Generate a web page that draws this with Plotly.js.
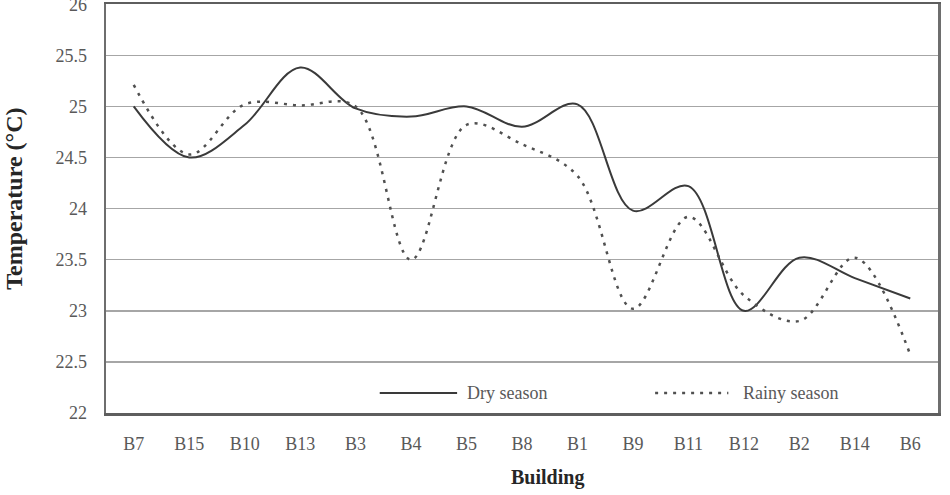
<!DOCTYPE html>
<html>
<head>
<meta charset="utf-8">
<script src="https://cdn.plot.ly/plotly-3.0.1.min.js"></script>
<style>
  html, body { margin: 0; padding: 0; background: #ffffff; }
  #chart { width: 950px; height: 495px; }
</style>
</head>
<body>
<div id="chart"></div>
<script>
// Mean indoor temperature per building, dry vs rainy season
const buildings = ['B7', 'B15', 'B10', 'B13', 'B3', 'B4', 'B5', 'B8', 'B1', 'B9', 'B11', 'B12', 'B2', 'B14', 'B6'];
const drySeason = [25.0, 24.5, 24.82, 25.38, 24.98, 24.9, 25.0, 24.8, 25.02, 23.98, 24.22, 23.0, 23.52, 23.32, 23.12];
const rainySeason = [25.21, 24.53, 25.02, 25.01, 25.0, 23.5, 24.82, 24.63, 24.32, 23.02, 23.92, 23.15, 22.9, 23.52, 22.57];
const seriesNames = ['Dry season', 'Rainy season'];
const yTicks = [22, 22.5, 23, 23.5, 24, 24.5, 25, 25.5, 26];

const serif = 'Liberation Serif, Times New Roman, serif';
const textGrey = '#595959';

const traces = [
  {
    x: buildings, y: drySeason, name: seriesNames[0], type: 'scatter', mode: 'lines',
    line: { color: '#3a3a3a', width: 2, shape: 'spline', smoothing: 1 },
    showlegend: false, hoverinfo: 'x+y'
  },
  {
    x: buildings, y: rainySeason, name: seriesNames[1], type: 'scatter', mode: 'lines',
    line: { color: '#505050', width: 2.5, dash: '3px,6px', shape: 'spline', smoothing: 1 },
    showlegend: false, hoverinfo: 'x+y'
  }
];

// Hand-drawn legend inside the plot, along the bottom
const legendY = 0.049;
const shapes = [
  { type: 'line', xref: 'paper', yref: 'paper', x0: 0.329, x1: 0.422, y0: legendY, y1: legendY,
    line: { color: '#3a3a3a', width: 2 } },
  { type: 'line', xref: 'paper', yref: 'paper', x0: 0.660, x1: 0.748, y0: legendY, y1: legendY,
    line: { color: '#505050', width: 2.5, dash: '3px,6px' } }
];

const annotations = [
  { xref: 'paper', yref: 'paper', x: 0.4315, y: legendY, xanchor: 'left', yanchor: 'middle',
    text: seriesNames[0], showarrow: false, font: { family: serif, size: 18, color: textGrey } },
  { xref: 'paper', yref: 'paper', x: 0.763, y: legendY, xanchor: 'left', yanchor: 'middle',
    text: seriesNames[1], showarrow: false, font: { family: serif, size: 18, color: textGrey } },
  // axis titles
  { xref: 'paper', yref: 'paper', x: 0.531, y: -0.158, xanchor: 'center', yanchor: 'middle',
    text: '<b>Building</b>', showarrow: false, font: { family: serif, size: 20, color: '#262626' } },
  { xref: 'paper', yref: 'paper', x: -0.11, y: 0.525, xanchor: 'center', yanchor: 'middle',
    textangle: -90, text: '<b>Temperature (°C)</b>', showarrow: false,
    font: { family: serif, size: 24, color: '#262626' } }
];

const layout = {
  width: 950, height: 495,
  margin: { l: 106, r: 12, t: 4, b: 82, pad: 0 },
  paper_bgcolor: '#ffffff', plot_bgcolor: '#ffffff',
  font: { family: serif, size: 18, color: textGrey },
  xaxis: {
    type: 'category', categoryorder: 'array', categoryarray: buildings,
    range: [-0.5, buildings.length - 0.5],
    showgrid: false, zeroline: false,
    showline: true, mirror: true, linecolor: '#5e5e5e', linewidth: 2.5,
    ticks: '', ticklabelstandoff: 13,
    tickfont: { family: serif, size: 18, color: textGrey },
    fixedrange: true
  },
  yaxis: {
    range: [22, 26.002], tickvals: yTicks, ticktext: yTicks.map(String),
    showgrid: true, gridcolor: '#a6a6a6', gridwidth: 1.5, zeroline: false,
    showline: true, mirror: true, linecolor: '#6e6e6e', linewidth: 2.5,
    ticks: '', ticklabelstandoff: 13, ticklabeloverflow: 'allow',
    tickfont: { family: serif, size: 18, color: textGrey },
    fixedrange: true
  },
  shapes: shapes,
  annotations: annotations,
  showlegend: false
};

Plotly.newPlot('chart', traces, layout, { displayModeBar: false, staticPlot: true });
</script>
</body>
</html>
